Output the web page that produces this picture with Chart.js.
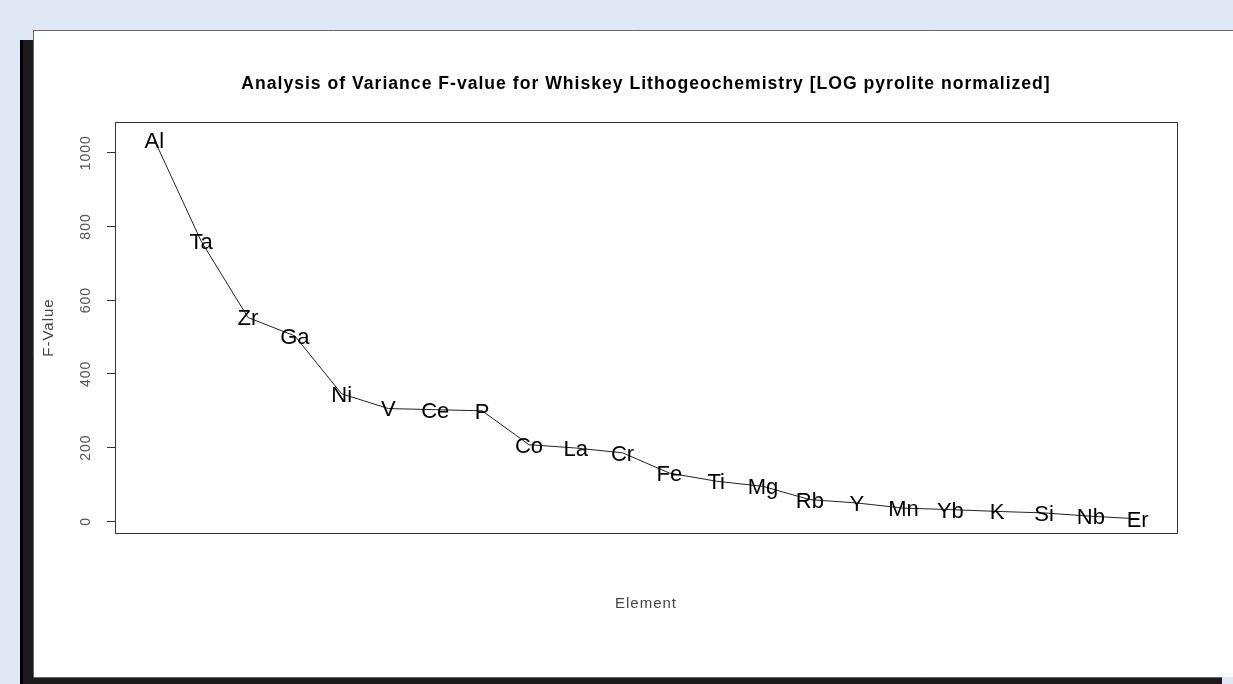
<!DOCTYPE html>
<html>
<head>
<meta charset="utf-8">
<script src="https://cdn.jsdelivr.net/npm/chart.js@4.4.1/dist/chart.umd.min.js"></script>
<style>
  html, body { margin: 0; padding: 0; background: #e1e8f5; overflow: hidden; }
  canvas { display: block; }
</style>
</head>
<body>
<canvas id="fvalue" width="1233" height="684"></canvas>
<script>
// elements in plotted order and their F-values
var elements = ['Al', 'Ta', 'Zr', 'Ga', 'Ni', 'V', 'Ce', 'P', 'Co', 'La', 'Cr',
                'Fe', 'Ti', 'Mg', 'Rb', 'Y', 'Mn', 'Yb', 'K', 'Si', 'Nb', 'Er'];
var fValues = [1035, 760, 553, 503, 346, 306, 303, 300, 208, 199, 186,
               131, 109, 95, 59, 50, 36, 32, 27, 23, 14, 7];
var yTicks = [0, 200, 400, 600, 800, 1000];

var FONT = "'Liberation Sans', Arial, Helvetica, sans-serif";

// page frame: blue background, black drop shadow, white panel
var framePlugin = {
  id: 'frame',
  beforeDraw: function(chart) {
    var ctx = chart.ctx;
    ctx.save();
    ctx.fillStyle = '#e1e8f5';
    ctx.fillRect(0, 0, chart.width, chart.height);
    ctx.fillStyle = '#1c1a1a';
    ctx.fillRect(20, 40, 1202, 644);
    ctx.fillStyle = '#000';
    ctx.fillRect(20, 40, 3, 644);
    ctx.fillStyle = '#ffffff';
    ctx.fillRect(33, 30, 1200, 647);
    ctx.strokeStyle = '#666';
    ctx.lineWidth = 1;
    ctx.beginPath();
    ctx.moveTo(33.5, 677);
    ctx.lineTo(33.5, 30.5);
    ctx.lineTo(1233, 30.5);
    ctx.moveTo(33.5, 677.5);
    ctx.lineTo(1222, 677.5);
    ctx.stroke();
    ctx.restore();
    // R's bitmap text runs a little wider than the canvas font
    ctx.letterSpacing = '1px';
  },
  beforeDatasetsDraw: function(chart) {
    chart.ctx.letterSpacing = '0px';
  }
};

// box round the plot region, like R's box()
var boxPlugin = {
  id: 'box',
  afterDraw: function(chart) {
    var a = chart.chartArea;
    var ctx = chart.ctx;
    ctx.save();
    ctx.strokeStyle = '#333';
    ctx.lineWidth = 1;
    ctx.strokeRect(Math.round(a.left) + 0.5, Math.round(a.top) + 0.5,
                   Math.round(a.right - a.left), Math.round(a.bottom - a.top));
    ctx.restore();
  }
};

// element names written centred on each point
var labelPlugin = {
  id: 'pointLabels',
  afterDatasetsDraw: function(chart) {
    var ctx = chart.ctx;
    var meta = chart.getDatasetMeta(0);
    var size = 22;
    ctx.save();
    ctx.font = size + 'px ' + FONT;
    ctx.fillStyle = '#000';
    ctx.textAlign = 'center';
    ctx.textBaseline = 'alphabetic';
    meta.data.forEach(function(pt, i) {
      ctx.fillText(elements[i], pt.x, pt.y + size * 0.36);
    });
    ctx.restore();
  }
};

var points = elements.map(function(e, i) { return {x: i + 1, y: fValues[i]}; });

new Chart('fvalue', {
  type: 'line',
  data: {
    datasets: [{
      data: points,
      borderColor: '#222',
      borderWidth: 1,
      pointRadius: 0,
      tension: 0,
      fill: false
    }]
  },
  plugins: [framePlugin, labelPlugin, boxPlugin],
  options: {
    responsive: false,
    animation: false,
    layout: { padding: { left: 39, right: 56, top: 0, bottom: 71 } },
    plugins: {
      legend: { display: false },
      tooltip: { enabled: false },
      title: {
        display: true,
        fullSize: false,
        text: 'Analysis of Variance F-value for Whiskey Lithogeochemistry [LOG pyrolite normalized]',
        color: '#000',
        font: { family: FONT, size: 17.6, weight: 'bold', lineHeight: 1.2 },
        padding: { top: 74, bottom: 27 }
      }
    },
    scales: {
      x: {
        type: 'linear',
        min: 0.16,
        max: 22.84,
        ticks: { display: false },
        grid: { display: false },
        border: { display: false },
        title: {
          display: true,
          text: 'Element',
          color: '#444',
          font: { family: FONT, size: 15, lineHeight: 1.2 },
          padding: { top: 0, bottom: 0 }
        },
        afterFit: function(scale) { scale.height = 80; }
      },
      y: {
        type: 'linear',
        min: -31.5,
        max: 1083,
        afterBuildTicks: function(scale) {
          scale.ticks = yTicks.map(function(v) { return {value: v}; });
        },
        ticks: {
          autoSkip: false,
          minRotation: 90,
          maxRotation: 90,
          crossAlign: 'center',
          padding: 5,
          color: '#555',
          font: { family: FONT, size: 14 },
          callback: function(v) { return String(v); }
        },
        grid: {
          drawOnChartArea: false,
          drawTicks: true,
          tickLength: 8,
          tickColor: '#333'
        },
        border: { display: true, color: '#333' },
        title: {
          display: true,
          text: 'F-Value',
          color: '#444',
          font: { family: FONT, size: 15, lineHeight: 1.2 },
          padding: { top: 1, bottom: 0 }
        },
        afterFit: function(scale) { scale.width = 76; }
      }
    }
  }
});
</script>
</body>
</html>
